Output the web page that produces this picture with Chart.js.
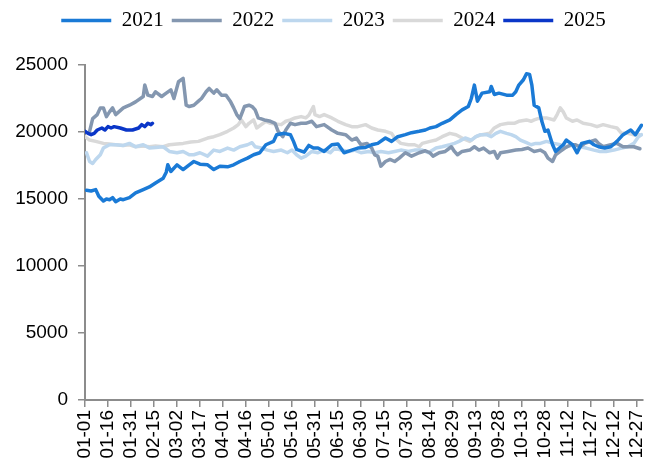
<!DOCTYPE html>
<html>
<head>
<meta charset="utf-8">
<script src="https://cdn.jsdelivr.net/npm/chart.js@4.4.1/dist/chart.umd.min.js"></script>
<style>
  html, body { margin: 0; padding: 0; background: #fff; }
</style>
</head>
<body>
<canvas id="chart" width="652" height="470"></canvas>
<script>
// x = day of year (0 = 01-01), y = price
const tickLabels = ['01-01','01-16','01-31','02-15','03-02','03-17','04-01','04-16','05-01','05-16',
  '05-31','06-15','06-30','07-15','07-30','08-14','08-29','09-13','09-28','10-13','10-28',
  '11-12','11-27','12-12','12-27'];
const yTicks = [0, 5000, 10000, 15000, 20000, 25000];
const years = ['2021', '2022', '2023', '2024', '2025'];

const s2021 = [[1,15650],[4,15600],[7,15700],[9,15200],[12,14850],[14,15000],[16,14950],[18,15100],
  [20,14800],[23,15000],[25,14950],[29,15100],[33,15450],[38,15700],[42,15900],[46,16200],[51,16550],
  [53,17000],[54,17550],[56,17050],[60,17550],[64,17200],[68,17550],[71,17800],[75,17600],[80,17550],
  [84,17200],[88,17450],[93,17400],[97,17550],[101,17800],[106,18050],[110,18300],[114,18450],
  [118,19050],[123,19300],[125,19800],[130,19900],[134,19800],[136,19300],[138,18700],[143,18500],
  [146,19000],[149,18800],[152,18800],[156,18550],[161,19050],[165,19100],[169,18450],[174,18650],
  [178,18800],[183,18850],[187,19050],[191,19150],[196,19550],[200,19300],[204,19650],[209,19800],
  [213,19950],[218,20050],[222,20150],[225,20300],[229,20400],[233,20650],[238,20900],[242,21300],
  [246,21650],[250,21900],[252,22500],[254,23500],[256,22300],[259,22900],[264,23000],[265,23400],
  [267,22800],[270,22900],[275,22750],[279,22750],[281,23000],[283,23500],[286,23900],[288,24350],
  [290,24300],[291.5,23500],[293,22000],[296,21800],[298,20800],[300,20050],[302,20150],[305,19050],
  [307,18550],[312,19050],[314,19400],[318,19050],[321,18450],[324,19150],[329,19300],[332,19050],
  [335,18900],[339,18800],[343,18900],[347,19300],[351,19800],[356,20150],[359,19800],[363,20500]];

const s2022 = [[3,20050],[5,21000],[8,21300],[10,21800],[12,21800],[14,21150],[16,21500],[18,21800],
  [20,21300],[25,21800],[29,22000],[33,22250],[38,22650],[39,23500],[41,22750],[44,22650],[46,23000],
  [50,22650],[53,22900],[56,23150],[58,22500],[61,23750],[64,24000],[65,23000],[66,22000],[68,21900],
  [71,22000],[74,22300],[76,22500],[79,23000],[81,23250],[84,22900],[86,23150],[89,22750],[92,22750],
  [95,22250],[97,21800],[99,21300],[101,21000],[104,21900],[107,22000],[109,21900],[111,21650],
  [113,21050],[117,20900],[121,20800],[124,20650],[126,20050],[129,19650],[131,20150],[134,20650],
  [137,20550],[141,20650],[144,20650],[148,20800],[151,20400],[156,20550],[161,20150],[165,19900],
  [170,19800],[174,19400],[177,19550],[180,19050],[184,19150],[187,18800],[189,18300],[191,18200],
  [193,17450],[196,17800],[199,17950],[202,17800],[205,18050],[209,18450],[213,18200],[218,18450],
  [222,18600],[225,18450],[227,18200],[231,18450],[235,18550],[239,18900],[241,18550],[243,18300],
  [246,18550],[251,18650],[254,18900],[257,18650],[260,18800],[264,18450],[267,18550],[269,18050],
  [271,18450],[276,18550],[281,18650],[285,18700],[289,18800],[293,18550],[297,18650],[300,18450],
  [302,18050],[305,17800],[307,18300],[310,18550],[313,18800],[317,19050],[320,19050],[323,18900],
  [326,19150],[330,19300],[333,19400],[335,19150],[338,18900],[343,19050],[347,19150],[351,18900],
  [358,18900],[362,18750]];

const s2023 = [[1,18450],[3,17800],[5,17650],[7,17950],[10,18300],[12,18800],[16,19050],[20,19050],
  [25,19000],[29,19150],[33,18900],[38,19050],[42,18800],[46,18850],[51,18900],[55,18550],[60,18450],
  [64,18550],[68,18300],[71,18300],[75,18450],[80,18200],[84,18650],[88,18550],[93,18800],[97,18650],
  [101,18900],[106,19050],[109,19200],[111,18900],[115,18800],[119,18650],[123,18550],[128,18650],
  [132,18450],[135,18650],[138,18300],[141,18050],[144,18200],[148,18550],[152,18450],[156,18650],
  [160,18450],[163,18800],[167,18650],[172,18550],[176,18650],[180,18450],[185,18550],[189,18450],
  [193,18550],[198,18450],[202,18550],[206,18650],[211,18550],[215,18650],[220,18650],[224,18450],
  [229,18800],[233,18900],[238,19050],[241,19150],[244,19300],[248,19550],[252,19400],[255,19650],
  [258,19800],[262,19800],[265,19650],[268,19900],[271,20050],[275,19900],[278,19800],[281,19650],
  [284,19400],[288,19200],[291,19050],[294,19150],[297,19150],[301,19300],[306,19150],[310,19050],
  [314,18900],[319,19050],[323,18900],[327,18800],[332,18650],[336,18550],[340,18550],[345,18650],
  [350,18800],[354,18900],[358,19150],[361,19650],[363,19800]];

const s2024 = [[0,19650],[3,19400],[7,19300],[12,19150],[16,19100],[20,19050],[25,19000],[29,19050],
  [33,18900],[38,18950],[42,18900],[46,18950],[51,18900],[55,19050],[60,19100],[64,19150],[69,19250],
  [74,19300],[80,19550],[84,19650],[88,19800],[93,20050],[97,20300],[100,20550],[102,20900],[105,20400],
  [107,20650],[110,20900],[112,20300],[115,20550],[118,20800],[121,20650],[124,20600],[128,20550],
  [131,20800],[134,20900],[137,21050],[141,21150],[144,21050],[146,21250],[149,21900],[150,21300],
  [153,21150],[156,21300],[161,21050],[165,20800],[170,20550],[174,20400],[178,20400],[183,20550],
  [187,20300],[191,20150],[196,20050],[200,19900],[202,19550],[206,19150],[211,19050],[215,19050],
  [218,18900],[220,19150],[225,19300],[229,19400],[233,19650],[238,19900],[242,19800],[246,19550],
  [251,19300],[255,19650],[259,19800],[264,19900],[267,20300],[271,20550],[276,20650],[280,20650],
  [283,20800],[288,20900],[291,20800],[293,20900],[297,21050],[301,21050],[306,20900],[308,21300],
  [310,21800],[312,21500],[314,21050],[318,20800],[321,20900],[325,20650],[330,20550],[334,20400],
  [338,20550],[343,20400],[347,20300],[350,19900],[354,19900],[358,19800],[362,19800]];

const s2025 = [[0,20050],[2,19900],[4,19800],[6,19900],[8,20150],[11,20300],[13,20150],[15,20400],
  [17,20300],[19,20400],[23,20300],[27,20150],[31,20150],[35,20300],[37,20550],[39,20400],[41,20650],
  [43,20550],[44,20650]];

const seriesData = [s2021, s2022, s2023, s2024, s2025];
const colors = ['#1a7ad6', '#8497b0', '#bdd7ee', '#d9d9d9', '#0a36c8'];
const drawOrder = [1, 2, 3, 4, 0]; // 2025 on top, then 2021

const axisGray = '#8c8c8c';

// extra room under the legend, and nudge it a little to the right
const legendTweak = {
  id: 'legendTweak',
  beforeInit(chart) {
    const fit = chart.legend.fit;
    chart.legend.fit = function () {
      fit.call(this);
      this.height += 24;
    };
  },
  afterLayout(chart) {
    chart.legend.left += 12;
    chart.legend.right += 12;
  }
};

new Chart(document.getElementById('chart'), {
  type: 'line',
  data: {
    datasets: years.map((y, i) => ({
      label: y,
      data: seriesData[i].map(p => ({ x: p[0], y: p[1] })),
      borderColor: colors[i],
      backgroundColor: colors[i],
      borderWidth: 3.5,
      borderCapStyle: 'round',
      borderJoinStyle: 'round',
      pointRadius: 0,
      tension: 0,
      order: drawOrder[i]
    }))
  },
  options: {
    responsive: false,
    animation: false,
    devicePixelRatio: 1,
    layout: { autoPadding: false, padding: { left: 0, right: 9, top: 2, bottom: 0 } },
    plugins: {
      legend: {
        position: 'top',
        align: 'center',
        labels: {
          usePointStyle: true,
          pointStyle: 'line',
          pointStyleWidth: 50,
          padding: 8,
          color: '#000',
          font: { family: '"Liberation Serif", "Times New Roman", serif', size: 21 },
          sort: (a, b) => a.datasetIndex - b.datasetIndex
        }
      },
      tooltip: { enabled: false }
    },
    scales: {
      x: {
        type: 'linear',
        min: 0,
        max: 364,
        afterFit(scale) {
          scale.height = 70;
          scale.paddingLeft = 0;
          scale.paddingRight = 0;
        },
        border: { display: true, color: axisGray, width: 2 },
        grid: { drawOnChartArea: false, drawTicks: true, tickLength: 7, color: axisGray, lineWidth: 1.5 },
        ticks: {
          stepSize: 15,
          includeBounds: false,
          autoSkip: false,
          minRotation: 90,
          maxRotation: 90,
          padding: 3,
          color: '#000',
          font: { family: '"Liberation Sans", Arial, sans-serif', size: 19 },
          callback: (v) => tickLabels[Math.round(v / 15)]
        }
      },
      y: {
        min: yTicks[0],
        max: yTicks[yTicks.length - 1],
        afterFit(scale) { scale.width = 85; },
        border: { display: true, color: axisGray, width: 2 },
        grid: { drawOnChartArea: false, drawTicks: true, tickLength: 7, color: axisGray, lineWidth: 1.5 },
        ticks: {
          stepSize: 5000,
          padding: 10,
          color: '#000',
          font: { family: '"Liberation Sans", Arial, sans-serif', size: 19 },
          callback: (v) => String(v)
        }
      }
    }
  },
  plugins: [legendTweak]
});
</script>
</body>
</html>
